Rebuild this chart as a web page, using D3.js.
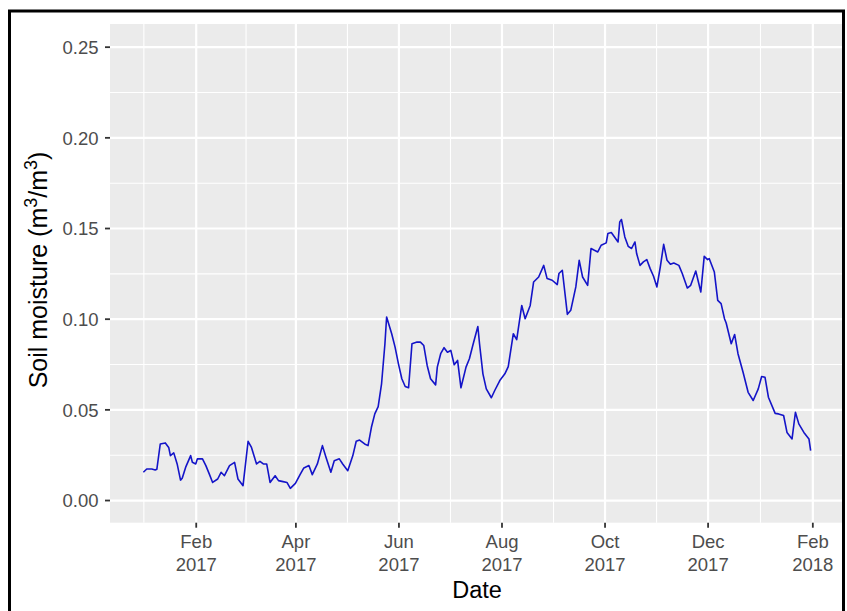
<!DOCTYPE html>
<html>
<head>
<meta charset="utf-8">
<script src="https://cdn.jsdelivr.net/npm/d3@7/dist/d3.min.js"></script>
<style>
    body { margin: 0; background: #ffffff; }
    svg { display: block; font-family: "Liberation Sans", Arial, sans-serif; }
</style>
</head>
<body>
<div id="chart-area"></div>
<script>
// series: days since 2017-01-01 and soil moisture
var startDate = new Date(2017, 0, 1);
var dayOffsets = [
    0, 2, 5, 7, 8, 10, 13, 15, 16, 18, 20, 22, 23, 25, 28, 29, 31, 32, 35, 37,
    39, 41, 44, 46, 48, 51, 54, 56, 59, 62, 64, 67, 69, 71, 73, 75, 78, 80, 82, 85,
    87, 90, 93, 95, 98, 100, 103, 106, 108, 111, 113, 116, 118, 121, 124, 126, 128, 131, 133, 135,
    137, 139, 141, 143, 144, 147, 149, 151, 153, 155, 157, 159, 162, 164, 166, 168, 170, 173, 174, 176,
    178, 180, 182, 184, 186, 188, 191, 193, 195, 198, 199, 201, 203, 206, 208, 211, 214, 216, 219, 221,
    224, 226, 229, 231, 234, 237, 239, 242, 245, 246, 248, 251, 253, 256, 258, 260, 263, 265, 267, 269,
    271, 274, 275, 277, 281, 282, 283, 285, 287, 289, 291, 292, 294, 296, 298, 300, 302, 304, 306, 308,
    310, 312, 314, 317, 319, 322, 324, 327, 330, 332, 334, 335, 338, 340, 342, 344, 345, 348, 350, 352,
    355, 358, 361, 364, 366, 368, 370, 374, 376, 379, 381, 384, 386, 388, 391, 394, 395
];
var moisture = [
    0.0153, 0.0171, 0.0171, 0.0166, 0.0170, 0.0309, 0.0315, 0.0290, 0.0245, 0.0260, 0.0199, 0.0110, 0.0120, 0.0180, 0.0245, 0.0208, 0.0199, 0.0227, 0.0227, 0.0190,
    0.0144, 0.0097, 0.0116, 0.0153, 0.0134, 0.0190, 0.0208, 0.0116, 0.0079, 0.0324, 0.0290, 0.0199, 0.0213, 0.0199, 0.0199, 0.0097, 0.0134, 0.0107, 0.0103, 0.0097,
    0.0064, 0.0092, 0.0144, 0.0177, 0.0190, 0.0140, 0.0199, 0.0300, 0.0239, 0.0153, 0.0217, 0.0227, 0.0199, 0.0162, 0.0245, 0.0324, 0.0331, 0.0309, 0.0300, 0.0401,
    0.0475, 0.0515, 0.0641, 0.0862, 0.1009, 0.0917, 0.0843, 0.0751, 0.0669, 0.0626, 0.0619, 0.0862, 0.0871, 0.0871, 0.0852, 0.0742, 0.0669, 0.0635, 0.0733, 0.0807,
    0.0840, 0.0815, 0.0825, 0.0746, 0.0770, 0.0619, 0.0733, 0.0779, 0.0852, 0.0957, 0.0862, 0.0696, 0.0613, 0.0564, 0.0604, 0.0659, 0.0696, 0.0736, 0.0917, 0.0884,
    0.1073, 0.1000, 0.1073, 0.1202, 0.1230, 0.1294, 0.1221, 0.1212, 0.1188, 0.1249, 0.1267, 0.1024, 0.1046, 0.1175, 0.1322, 0.1230, 0.1184, 0.1387, 0.1377, 0.1368,
    0.1405, 0.1418, 0.1470, 0.1475, 0.1423, 0.1534, 0.1547, 0.1451, 0.1399, 0.1387, 0.1423, 0.1359, 0.1294, 0.1313, 0.1326, 0.1276, 0.1234, 0.1175, 0.1285, 0.1410,
    0.1322, 0.1300, 0.1307, 0.1294, 0.1249, 0.1169, 0.1184, 0.1263, 0.1147, 0.1344, 0.1326, 0.1331, 0.1257, 0.1101, 0.1083, 0.1000, 0.0976, 0.0862, 0.0913, 0.0807,
    0.0705, 0.0594, 0.0549, 0.0613, 0.0681, 0.0677, 0.0567, 0.0478, 0.0475, 0.0466, 0.0373, 0.0337, 0.0484, 0.0420, 0.0373, 0.0337, 0.0272
];

var yTicks = [0, 0.05, 0.10, 0.15, 0.20, 0.25];
var yLimits = [0, 0.25];
var xTickDates = ["2017-02-01", "2017-04-01", "2017-06-01", "2017-08-01", "2017-10-01", "2017-12-01", "2018-02-01"];
var xTickMonths = ["Feb", "Apr", "Jun", "Aug", "Oct", "Dec", "Feb"];
var xTickYears = ["2017", "2017", "2017", "2017", "2017", "2017", "2018"];

var width = 847;
var height = 611;
var panel = { left: 110, right: 844, top: 24, bottom: 522.7 };
var pw = panel.right - panel.left;

var parseDate = d3.timeParse("%Y-%m-%d");

var data = dayOffsets.map((d, i) => ({
    date: d3.timeDay.offset(startDate, d),
    value: moisture[i]
}));

var svg = d3.select("#chart-area")
    .append("svg")
    .attr("width", width)
    .attr("height", height);

// x scale with ggplot-style 5% expansion
var ext = d3.extent(data, d => d.date.getTime());
var pad = (ext[1] - ext[0]) * 0.05;
var x = d3.scaleTime()
    .domain([new Date(ext[0] - pad), new Date(ext[1] + pad)])
    .range([panel.left, panel.right]);

var yPad = (yLimits[1] - yLimits[0]) * 0.05;
var y = d3.scaleLinear()
    .domain([yLimits[0] - yPad, yLimits[1] + yPad])
    .range([panel.bottom, panel.top]);

var majorDates = xTickDates.map(parseDate);
// minor breaks half way between majors (incl. the ones just outside)
var allMajors = [parseDate("2016-12-01")].concat(majorDates, [parseDate("2018-04-01")]);
var minorDates = [];
for (var i = 0; i < allMajors.length - 1; i++) {
    var mid = new Date((allMajors[i].getTime() + allMajors[i + 1].getTime()) / 2);
    if (mid >= x.domain()[0] && mid <= x.domain()[1]) minorDates.push(mid);
}
var yMinor = [];
for (var j = 0; j < yTicks.length - 1; j++) yMinor.push((yTicks[j] + yTicks[j + 1]) / 2);

// panel
svg.append("rect")
    .attr("x", panel.left)
    .attr("y", panel.top)
    .attr("width", pw)
    .attr("height", panel.bottom - panel.top)
    .attr("fill", "#EBEBEB");

function gridStyle(sel, w) {
    sel.select(".domain").remove();
    sel.selectAll("line").attr("stroke", "#ffffff").attr("stroke-width", w);
}

svg.append("g")
    .attr("transform", `translate(${panel.left},0)`)
    .call(d3.axisLeft(y).tickValues(yMinor).tickSize(-pw).tickFormat(""))
    .call(gridStyle, 1.1);

svg.append("g")
    .attr("transform", `translate(0,${panel.bottom})`)
    .call(d3.axisBottom(x).tickValues(minorDates).tickSize(-(panel.bottom - panel.top)).tickFormat(""))
    .call(gridStyle, 1.1);

svg.append("g")
    .attr("transform", `translate(${panel.left},0)`)
    .call(d3.axisLeft(y).tickValues(yTicks).tickSize(-pw).tickFormat(""))
    .call(gridStyle, 2.2);

svg.append("g")
    .attr("transform", `translate(0,${panel.bottom})`)
    .call(d3.axisBottom(x).tickValues(majorDates).tickSize(-(panel.bottom - panel.top)).tickFormat(""))
    .call(gridStyle, 2.2);

// the series
var line = d3.line()
    .x(d => x(d.date))
    .y(d => y(d.value));

svg.append("path")
    .datum(data)
    .attr("fill", "none")
    .attr("stroke", "#1414C8")
    .attr("stroke-width", 1.6)
    .attr("stroke-linejoin", "round")
    .attr("d", line);

// axes
var yAxis = svg.append("g")
    .attr("transform", `translate(${panel.left},0)`)
    .call(d3.axisLeft(y).tickValues(yTicks).tickSize(5).tickSizeOuter(0).tickPadding(6.5)
        .tickFormat(d3.format(".2f")));
yAxis.select(".domain").remove();
yAxis.selectAll("line").attr("stroke", "#333333").attr("stroke-width", 1.8);
yAxis.selectAll("text")
    .attr("fill", "#4D4D4D")
    .attr("font-size", "18.5px")
    .attr("font-family", "Liberation Sans, Arial, sans-serif")
    .attr("dy", "0.36em");

var xAxis = svg.append("g")
    .attr("transform", `translate(0,${panel.bottom})`)
    .call(d3.axisBottom(x).tickValues(majorDates).tickSize(5).tickSizeOuter(0).tickFormat(""));
xAxis.select(".domain").remove();
xAxis.selectAll("line").attr("stroke", "#333333").attr("stroke-width", 1.8);
xAxis.selectAll(".tick text").each(function(d, i) {
    var t = d3.select(this)
        .attr("y", null)
        .attr("dy", null)
        .attr("fill", "#4D4D4D")
        .attr("font-size", "18.5px")
        .attr("font-family", "Liberation Sans, Arial, sans-serif");
    t.append("tspan").attr("x", 0).attr("y", 25.6).text(xTickMonths[i]);
    t.append("tspan").attr("x", 0).attr("y", 48).text(xTickYears[i]);
});

// axis titles
svg.append("text")
    .attr("x", (panel.left + panel.right) / 2)
    .attr("y", 598)
    .attr("text-anchor", "middle")
    .attr("font-size", "23.5px")
    .attr("fill", "#000000")
    .text("Date");

var yTitle = svg.append("text")
    .attr("transform", `translate(47,270) rotate(-90)`)
    .attr("text-anchor", "middle")
    .attr("font-size", "25px")
    .attr("fill", "#000000");
yTitle.append("tspan").text("Soil moisture (m");
yTitle.append("tspan").attr("dy", -10).attr("font-size", "18px").text("3");
yTitle.append("tspan").attr("dy", 10).text("/m");
yTitle.append("tspan").attr("dy", -10).attr("font-size", "18px").text("3");
yTitle.append("tspan").attr("dy", 10).text(")");

// plot frame
svg.append("rect")
    .attr("x", 9.5)
    .attr("y", 11)
    .attr("width", 834)
    .attr("height", 660)
    .attr("fill", "none")
    .attr("stroke", "#000000")
    .attr("stroke-width", 3);
</script>
</body>
</html>
